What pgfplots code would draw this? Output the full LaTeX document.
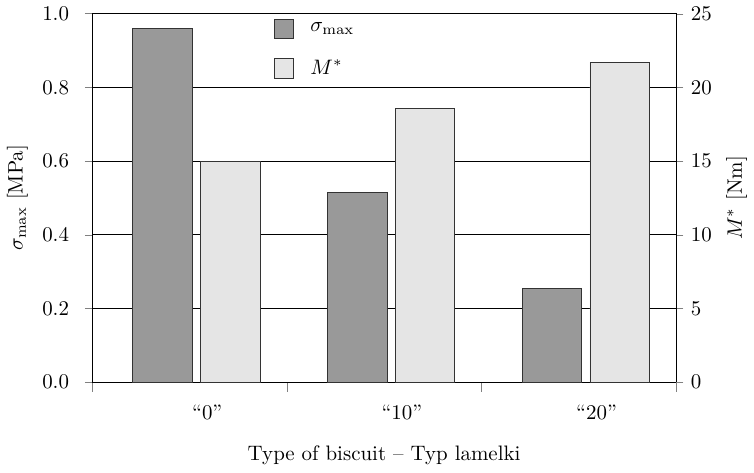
\documentclass[border=0pt]{standalone}
\usepackage{pgfplots}
\pgfplotsset{compat=1.18}
\begin{document}
\begin{tikzpicture}
\pgfplotsset{
  common/.style={
    scale only axis, width=279pt, height=176pt,
    xmin=-0.5, xmax=2.5, ymin=0,
    tick align=outside,
    major tick length=3.5pt,
    minor tick length=4.5pt,
  },
  sqleg/.style={legend image code/.code={\draw[##1] (0pt,-4.6pt) rectangle (9.2pt,4.6pt); \path (15pt,0pt);}},
}
\begin{axis}[common,
  ymax=1.0,
  ytick={0,0.2,0.4,0.6,0.8,1.0},
  yticklabel style={xshift=-4pt, /pgf/number format/.cd, fixed, fixed zerofill, precision=1},
  ytick pos=left,
  ymajorgrids, grid style={black, line width=0.4pt},
  xtick={0,1,2}, xticklabels={``0'',``10'',``20''},
  minor xtick={-0.5,0.5,1.5,2.5},
  xtick pos=bottom,
  major x tick style={draw=none},
  xticklabel style={xshift=8.5pt, yshift=-4pt},
  ylabel={$\sigma_{\max}$ [MPa]},
  xlabel={Type of biscuit -- Typ lamelki},
  xlabel style={yshift=-5.5pt},
  legend style={draw=none, fill=none, at={(0.30,1.0)}, anchor=north west, row sep=8pt},
  legend cell align=left,
]
\addplot[ybar, bar width=0.305, bar shift=-0.138, fill=black!40, draw=black!80, sqleg]
  coordinates {(0,0.96) (1,0.515) (2,0.253)};
\addlegendentry{$\sigma_{\max}$}
\addlegendimage{sqleg, fill=black!10, draw=black!80}
\addlegendentry{$M^*$}
\end{axis}
\begin{axis}[common,
  ymax=25,
  ytick={0,5,10,15,20,25},
  axis y line*=right,
  axis x line=none,
  ylabel={$M^*$ [Nm]},
]
\addplot[ybar, bar width=0.305, bar shift=0.21, fill=black!10, draw=black!80]
  coordinates {(0,15) (1,18.6) (2,21.7)};
\end{axis}
\end{tikzpicture}
\end{document}
